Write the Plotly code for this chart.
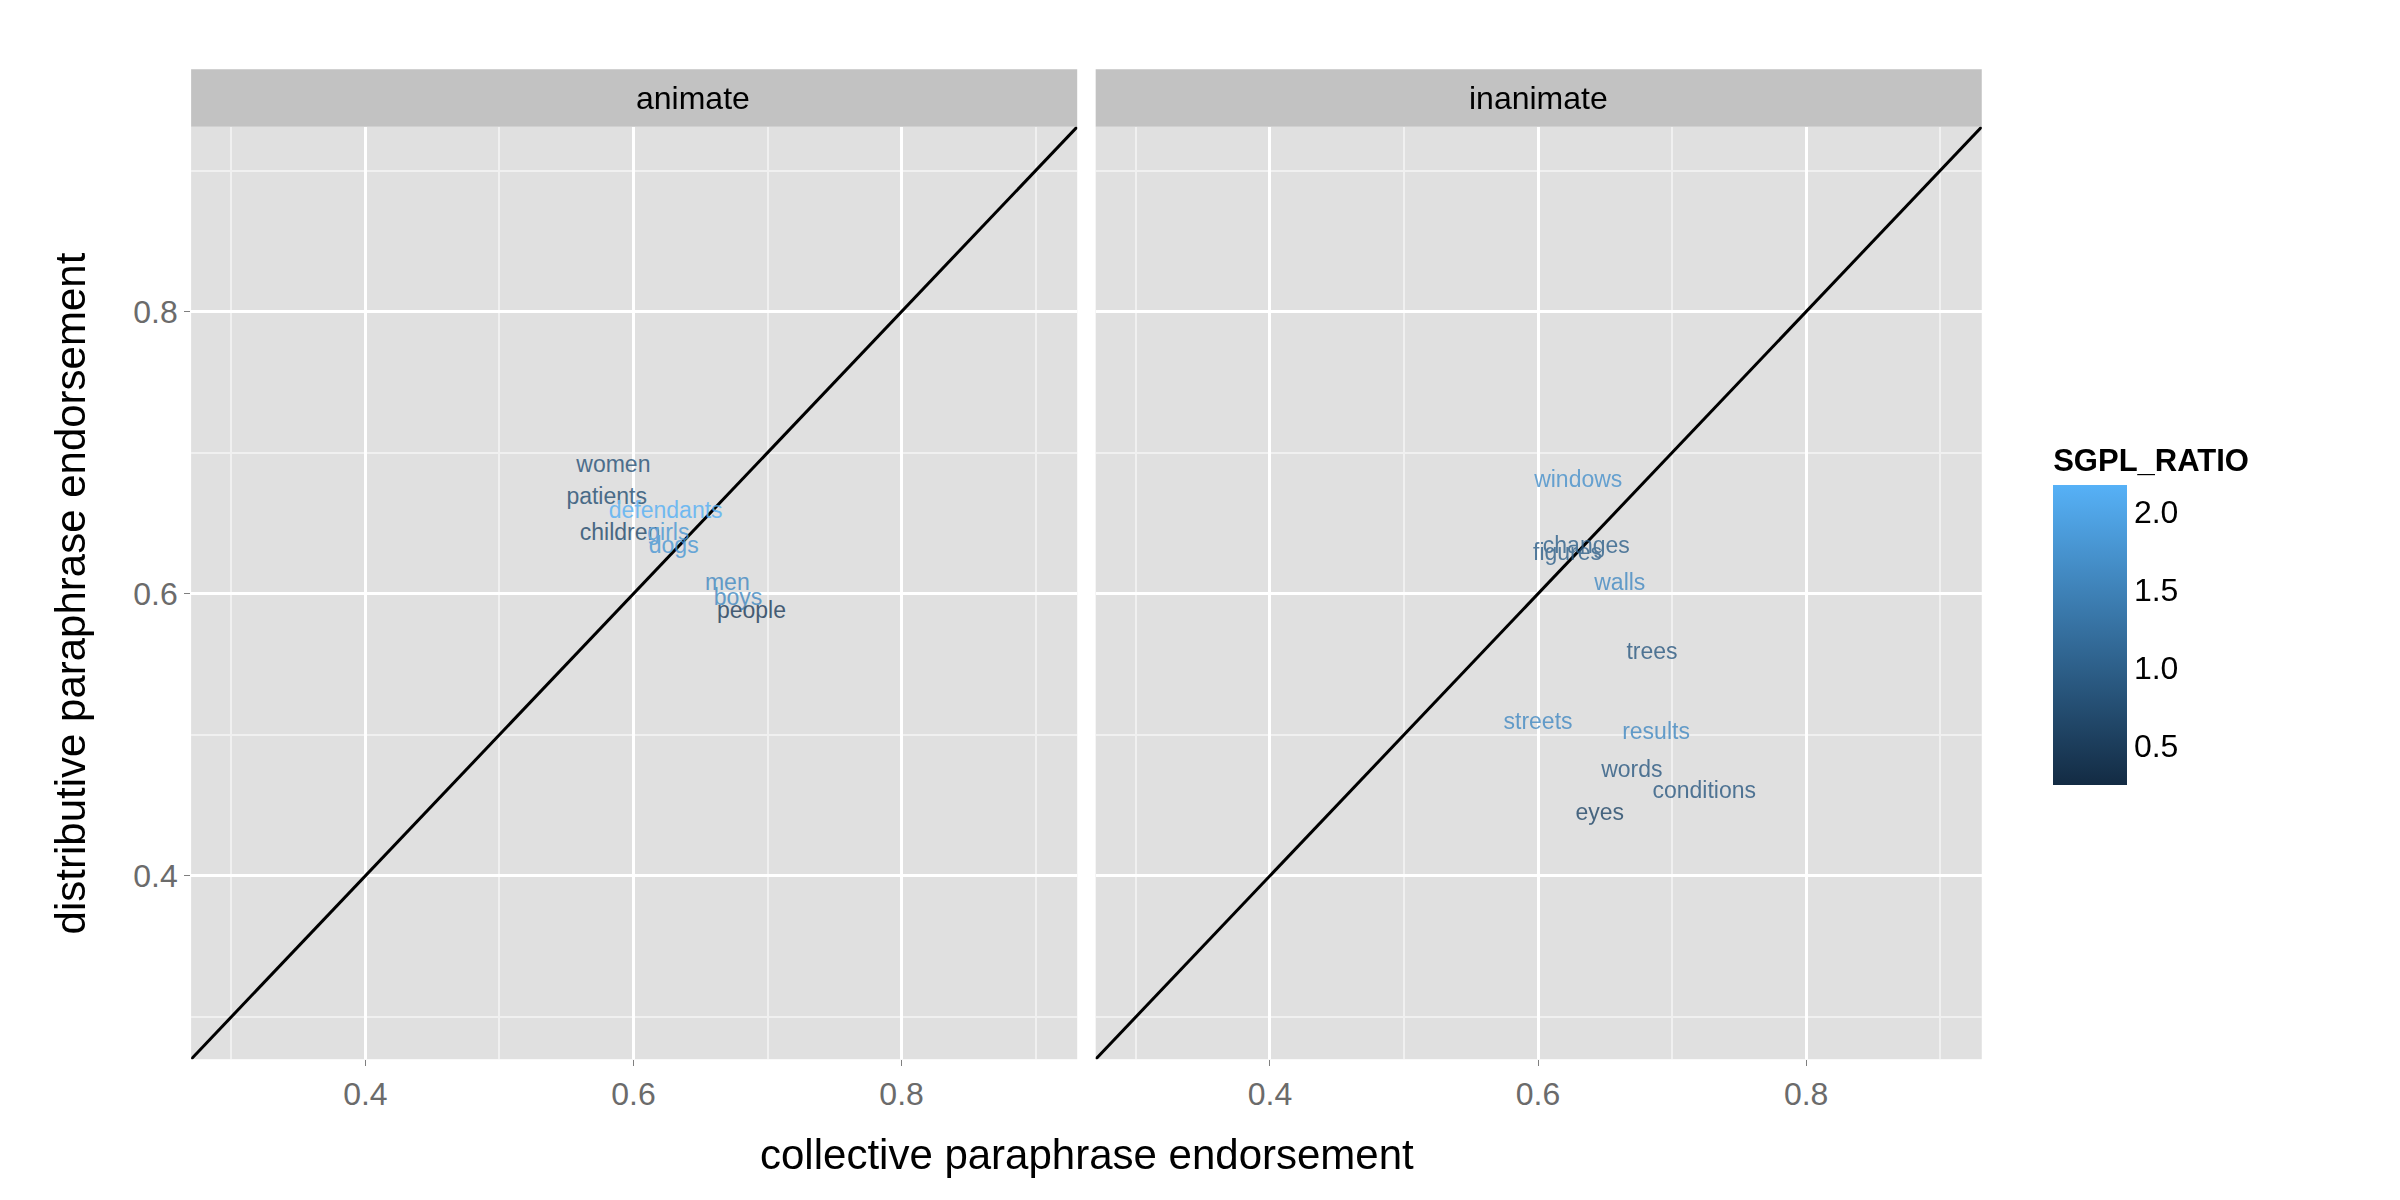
import plotly.graph_objects as go
from plotly.colors import sample_colorscale

# data
animate_words = ["women","patients","defendants","children","girls","dogs","men","boys","people"]
animate_coll = [0.585,0.580,0.624,0.590,0.626,0.630,0.670,0.678,0.688]
animate_dist = [0.690,0.668,0.658,0.642,0.642,0.633,0.607,0.596,0.587]
animate_ratio = [0.8,0.75,2.15,0.7,1.8,1.8,1.6,1.6,0.5]

inanimate_words = ["windows","changes","figures","walls","trees","streets","results","words","conditions","eyes"]
inanimate_coll = [0.630,0.636,0.622,0.661,0.685,0.600,0.688,0.670,0.724,0.646]
inanimate_dist = [0.680,0.633,0.628,0.607,0.558,0.508,0.501,0.474,0.459,0.444]
inanimate_ratio = [1.7,1.0,1.0,1.6,0.9,1.6,1.6,0.9,0.9,0.65]

cmin, cmax = 0.25, 2.17
cscale = [[0, "#132B43"], [1, "#56B1F7"]]
def cols(r):
    return sample_colorscale(cscale, [(v - cmin) / (cmax - cmin) for v in r])

rng = [0.27, 0.931]
fig = go.Figure()
for i, (w, xc, yd, r) in enumerate([(animate_words, animate_coll, animate_dist, animate_ratio),
                                     (inanimate_words, inanimate_coll, inanimate_dist, inanimate_ratio)]):
    xa = "x" if i == 0 else "x2"
    ya = "y" if i == 0 else "y2"
    fig.add_trace(go.Scatter(x=rng, y=rng, mode="lines", line=dict(color="black", width=3),
                             xaxis=xa, yaxis=ya, showlegend=False, hoverinfo="skip"))
    fig.add_trace(go.Scatter(x=xc, y=yd, mode="text", text=w, opacity=0.8,
                             textfont=dict(color=cols(r), size=23, family="Liberation Sans"),
                             xaxis=xa, yaxis=ya, showlegend=False))

fig.add_trace(go.Scatter(x=[None], y=[None], mode="markers", showlegend=False,
    marker=dict(color=[cmin, cmax], cmin=cmin, cmax=cmax, colorscale=cscale, showscale=True,
        colorbar=dict(title=dict(text="<b>SGPL_RATIO</b>", font=dict(size=31, color="black"), side="top"),
            x=0.848, xanchor="left", y=0.494, yanchor="middle", len=0.30, lenmode="fraction",
            thickness=74, outlinewidth=0, ticks="", tickvals=[0.5,1.0,1.5,2.0],
            ticktext=["0.5","1.0","1.5","2.0"], tickfont=dict(size=32, color="black"))),
    xaxis="x2", yaxis="y2"))

ax = dict(range=rng, tickvals=[0.4,0.6,0.8], ticktext=["0.4","0.6","0.8"], showgrid=True,
          gridcolor="white", gridwidth=3, zeroline=False, ticks="outside", ticklen=6,
          tickcolor="#7f7f7f", tickfont=dict(size=32, color="#6b6b6b"),
          minor=dict(tickvals=[0.3,0.5,0.7,0.9], showgrid=True, gridcolor="#f0f0f0", gridwidth=1.5, ticks=""))
fig.update_layout(
    width=2400, height=1200, paper_bgcolor="white", plot_bgcolor="#e0e0e0",
    margin=dict(l=0, r=0, t=0, b=0), font=dict(family="Liberation Sans"),
    xaxis=dict(ax, domain=[0.0763, 0.4455], anchor="y"),
    xaxis2=dict(ax, domain=[0.4532, 0.8224], anchor="y2"),
    yaxis=dict(ax, domain=[0.124, 0.901], anchor="x"),
    yaxis2=dict(ax, domain=[0.124, 0.901], anchor="x2", showticklabels=False, ticks=""),
    shapes=[dict(type="rect", xref="paper", yref="paper", x0=d[0], x1=d[1], y0=0.901, y1=0.949,
                 fillcolor="#c2c2c2", line=dict(width=0), layer="below")
            for d in [(0.0763, 0.4455), (0.4532, 0.8224)]],
    annotations=[
        dict(text="animate", x=(0.0763+0.4455)/2, y=0.925, xref="paper", yref="paper", yanchor="middle", showarrow=False, font=dict(size=32, color="black")),
        dict(text="inanimate", x=(0.4532+0.8224)/2, y=0.925, xref="paper", yref="paper", yanchor="middle", showarrow=False, font=dict(size=32, color="black")),
        dict(text="collective paraphrase endorsement", x=0.4494, y=0.045, xref="paper", yref="paper", yanchor="middle", showarrow=False, font=dict(size=42, color="black")),
        dict(text="distributive paraphrase endorsement", x=0.026, y=0.5125, xref="paper", yref="paper", xanchor="center", showarrow=False, textangle=-90, font=dict(size=42, color="black")),
    ],
)
fig.write_html("out.html")
